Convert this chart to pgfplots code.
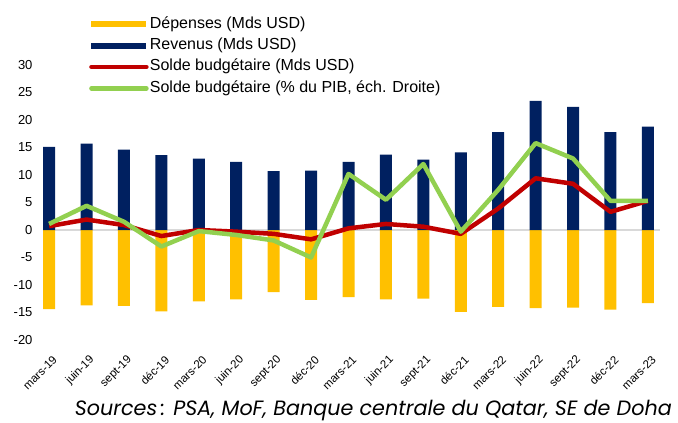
\documentclass[border=0pt]{standalone}
\usepackage{fontspec}
\setmainfont{Liberation Sans}
\newfontfamily\capfont{Poppins}
\usepackage{pgfplots}
\usepackage{pgfplotstable}
\pgfplotsset{compat=1.18}
\definecolor{depgold}{HTML}{FFC000}
\definecolor{revnavy}{HTML}{002060}
\definecolor{soldered}{HTML}{C00000}
\definecolor{pibgreen}{HTML}{92D050}
\definecolor{zerogray}{HTML}{D9D9D9}

% quarterly, mars-19 .. mars-23
\pgfplotstableread{
x  dep    rev   solde  pib
0  -14.4  15.1   0.7    1.1
1  -13.7  15.7   1.9    4.4
2  -13.8  14.6   0.9    1.5
3  -14.8  13.6  -1.1   -3.0
4  -13.0  13.0   0.0   -0.2
5  -12.6  12.4  -0.3   -0.9
6  -11.3  10.7  -0.7   -1.9
7  -12.7  10.8  -1.7   -5.0
8  -12.2  12.4   0.3   10.2
9  -12.6  13.7   1.1    5.5
10 -12.5  12.8   0.6   12.0
11 -14.9  14.1  -0.7   -0.3
12 -14.0  17.8   3.9    7.3
13 -14.2  23.5   9.4   15.8
14 -14.1  22.4   8.4   13.0
15 -14.5  17.8   3.3    5.3
16 -13.3  18.8   5.3    5.3
}\budget

\begin{document}
\begin{tikzpicture}[x=1pt,y=1pt]
\useasboundingbox (0,0) rectangle (678,423);
\begin{axis}[
  at={(36pt,83pt)}, anchor=south west,
  scale only axis, width=625pt, height=275pt,
  xmin=-0.35, xmax=16.35, ymin=-20, ymax=30,
  clip=false,
  axis line style={draw=none},
  major tick length=0pt,
  ytick={-20,-15,...,30},
  xtick={0,...,16},
  xticklabels={mars-19,juin-19,sept-19,déc-19,mars-20,juin-20,sept-20,déc-20,
    mars-21,juin-21,sept-21,déc-21,mars-22,juin-22,sept-22,déc-22,mars-23},
  xticklabel style={xshift=6pt, yshift=-18pt, rotate=45, anchor=east, inner sep=0pt,
    font=\fontsize{11.5}{13}\selectfont},
  yticklabel style={font=\fontsize{13}{15}\selectfont},
  /pgf/number format/assume math mode=true,
  legend style={at={(axis description cs:0.08,1.19)}, anchor=north west,
    draw=none, fill=none, font=\fontsize{16}{18}\selectfont,
    row sep=3pt,
    nodes={inner sep=1.2pt, text height=12pt, text depth=4pt}},
  legend cell align=left,
]
\draw[zerogray, line width=2pt] (axis cs:-0.163,0) -- (axis cs:16.32,0);

\addplot[ybar, bar width=12pt, bar shift=0pt, fill=depgold, draw=none,
  legend image code/.code={\fill[depgold] (0pt,-3pt) rectangle (55pt,3pt);}]
  table[x=x, y=dep] {\budget};
\addlegendentry{Dépenses (Mds USD)}
\addplot[ybar, bar width=12pt, bar shift=0pt, fill=revnavy, draw=none,
  legend image code/.code={\fill[revnavy] (0pt,-3pt) rectangle (55pt,3pt);}]
  table[x=x, y=rev] {\budget};
\addlegendentry{Revenus (Mds USD)}
\addplot[soldered, line width=4.5pt, line join=round, mark=none,
  legend image code/.code={\draw[soldered, line width=4.5pt, line cap=round] (0pt,0pt) -- (55pt,0pt);}]
  table[x=x, y=solde] {\budget};
\addlegendentry{Solde budgétaire (Mds USD)}
\addplot[pibgreen, line width=4.5pt, line join=round, mark=none,
  legend image code/.code={\draw[pibgreen, line width=4.5pt, line cap=round] (0pt,0pt) -- (55pt,0pt);}]
  table[x=x, y=pib] {\budget};
\addlegendentry{Solde budgétaire (\% du PIB, éch. Droite)}
\end{axis}
\node[anchor=base east, inner sep=0pt, font=\capfont\itshape\fontsize{20.7}{24}\selectfont]
  at (672,7) {Sources\,: PSA, MoF, Banque centrale du Qatar, SE de Doha};
\end{tikzpicture}
\end{document}
